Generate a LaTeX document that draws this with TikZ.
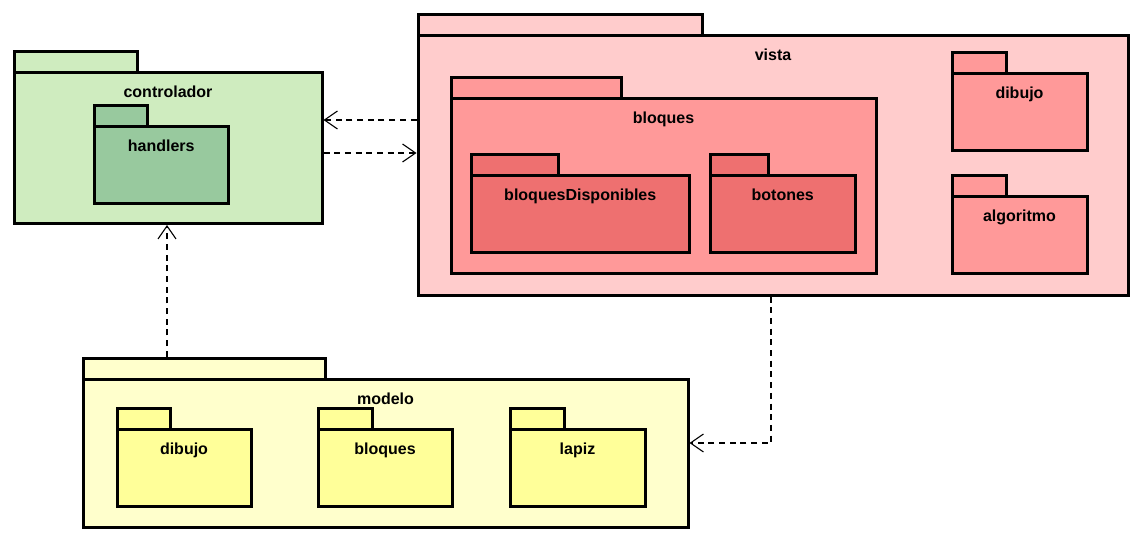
\documentclass[tikz,border=0pt]{standalone}
\usepackage{fontspec}
\setmainfont{Liberation Sans}
\usetikzlibrary{arrows.meta}
\definecolor{ctrlfill}{HTML}{CFECBF}
\definecolor{handfill}{HTML}{98C99E}
\definecolor{vistafill}{HTML}{FFCCCC}
\definecolor{blqfill}{HTML}{FF9999}
\definecolor{innerfill}{HTML}{EE7070}
\definecolor{modfill}{HTML}{FFFFCC}
\definecolor{modinner}{HTML}{FFFF99}
\tikzset{
  pkg/.style={draw=black, line width=3pt, rectangle, inner sep=0pt},
  lbl/.style={font=\bfseries\fontsize{16}{18}\selectfont, anchor=base, inner sep=0pt},
  dep/.style={line width=1.1pt, dash pattern=on 6pt off 4.7pt, -{Straight Barb[length=13pt,width=18pt,line width=1.1pt]}}
}
\newcommand\pkgbox[9]{%
  \node[pkg, fill=#2, minimum width={#5pt-#3pt}, minimum height={#6pt-#4pt}, anchor=south west] (#1-tab) at ({#3-1.5},{#6+1.5}) {};
  \node[pkg, fill=#2, minimum width={#7pt-#3pt}, minimum height={#8pt-#6pt}, anchor=north west] (#1) at ({#3-1.5},{#6-1.5}) {};
  \node[lbl] (#1-lbl) at ({(#3+#7)/2},{#6+25}) {#9};
}
\begin{document}
\begin{tikzpicture}[x=1pt,y=-1pt]
\useasboundingbox (0,0) rectangle (1136,535);
% controlador
\pkgbox{ctrl}{ctrlfill}{14}{52}{137}{73}{322}{223.5}{controlador}
\pkgbox{hand}{handfill}{94}{105.5}{147}{126}{228.5}{203}{handlers}
% vista
\pkgbox{vista}{vistafill}{418}{15}{702}{36}{1128}{295}{vista}
\pkgbox{blq}{blqfill}{451}{77.3}{621}{98.3}{876}{273.3}{bloques}
\pkgbox{bdisp}{innerfill}{471.5}{154.3}{558.5}{175}{689}{252.5}{bloquesDisponibles}
\pkgbox{bot}{innerfill}{710.5}{154.3}{768.5}{175}{855}{252.5}{botones}
\pkgbox{vdib}{blqfill}{952}{52.3}{1006.5}{73.3}{1087}{150.5}{dibujo}
\pkgbox{alg}{blqfill}{952}{175}{1006.5}{196.5}{1087}{273.3}{algoritmo}
% modelo
\pkgbox{mod}{modfill}{83}{358.3}{325.5}{379.3}{688}{527}{modelo}
\pkgbox{mdib}{modinner}{117}{408}{170}{429.3}{251}{506.7}{dibujo}
\pkgbox{mblq}{modinner}{318}{408}{372}{429.3}{452}{506.7}{bloques}
\pkgbox{lap}{modinner}{510}{408}{564}{429.3}{645}{506.7}{lapiz}
% dependencies
\draw[dep] (vista.west |- 0,120) -- (ctrl.east |- 0,120);
\draw[dep] (ctrl.east |- 0,153) -- (vista.west |- 0,153);
\draw[dep] (167,0 |- mod-tab.north) -- (167,0 |- ctrl.south);
\draw[dep] (771,0 |- vista.south) |- (mod.east |- 0,443);
\end{tikzpicture}
\end{document}
